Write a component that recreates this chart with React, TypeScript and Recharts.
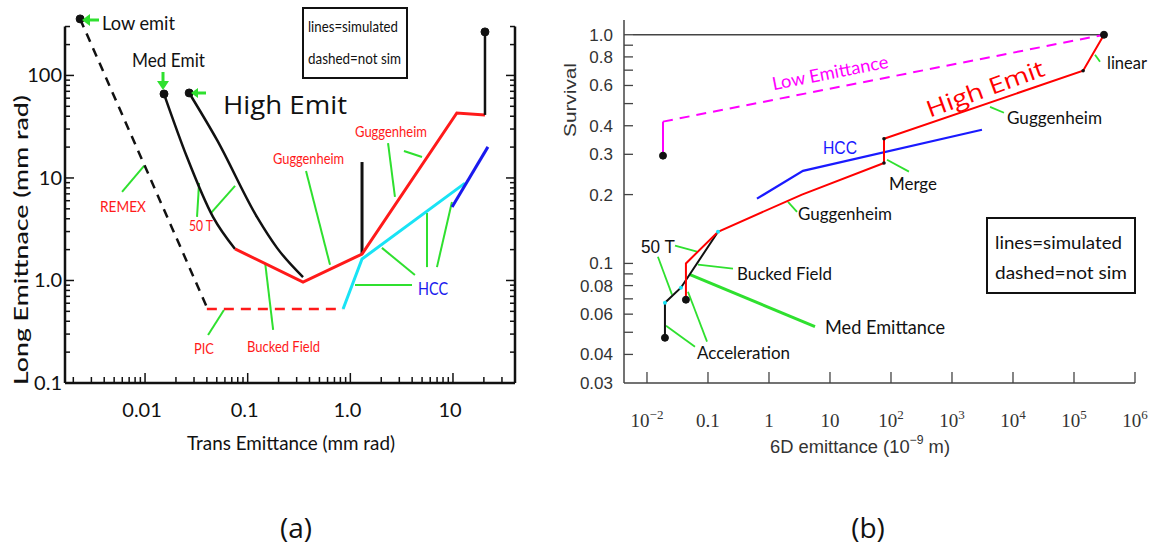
import { LineChart, Line, XAxis, YAxis, ReferenceLine, ReferenceDot } from 'recharts';

// ---------- (a) long emittance vs trans emittance (mm rad) ----------
const lowEmitA = [{ x: 0.00233, y: 356 }, { x: 0.04, y: 0.55 }];
const picA = [{ x: 0.04, y: 0.527 }, { x: 0.85, y: 0.527 }];
const medEmitA = [
    { x: 0.0153, y: 66 }, { x: 0.0256, y: 16 }, { x: 0.0459, y: 4.17 }, { x: 0.0753, y: 2.03 }
];
const highEmitA = [
    { x: 0.0269, y: 67.5 }, { x: 0.0502, y: 23.5 }, { x: 0.123, y: 4.17 }, { x: 0.193, y: 2.08 }, { x: 0.346, y: 1.08 }
];
const coolingA = [
    { x: 0.0753, y: 2.03 }, { x: 0.346, y: 0.966 }, { x: 1.3, y: 1.81 }, { x: 10.9, y: 43 }, { x: 20.5, y: 41.2 }
];
const spikeA = [{ x: 1.3, y: 1.81 }, { x: 1.3, y: 14.3 }];
const finalA = [{ x: 20.5, y: 41.2 }, { x: 20.5, y: 266 }];
const hccCyanA = [{ x: 0.85, y: 0.527 }, { x: 1.3, y: 1.62 }, { x: 13.1, y: 8.9 }];
const hccBlueA = [{ x: 9.8, y: 5.2 }, { x: 21.9, y: 20.1 }];
const startsA = [
    { x: 0.00233, y: 356 }, { x: 0.0153, y: 66 }, { x: 0.0269, y: 67.5 }, { x: 20.5, y: 266 }
];

// green pointers [from, to]
const pointersA = [
    [[0.00597, 7.3], [0.00978, 13.1]],   // REMEX
    [[0.0336, 8.94], [0.0321, 4.17]],    // 50 T
    [[0.044, 4.56], [0.0753, 8.36]],
    [[0.37, 11.7], [0.634, 1.42]],       // Guggenheim
    [[2.33, 21.9], [2.72, 6.53]],        // Guggenheim
    [[3.33, 18.3], [4.99, 16.0]],
    [[5.58, 4.56], [5.58, 1.35]],        // HCC
    [[9.77, 5.83], [6.98, 1.35]],
    [[2.03, 2.08], [4.26, 1.13]],
    [[1.11, 0.904], [3.99, 0.904]],
    [[0.0411, 0.294], [0.0587, 0.515]],  // PIC
    [[0.177, 0.329], [0.148, 1.48]],     // Bucked Field
];

const transMajor = [0.01, 0.1, 1, 10];
const transLabels = ['0.01', '0.1', '1.0', '10'];
const longMajor = [0.1, 1, 10, 100];
const longLabels = ['0.1', '1.0', '10', '100'];
const multipliers = [1, 2, 3, 4, 5, 6, 7, 8, 9];
const transTicks = [0.001, 0.01, 0.1, 1, 10]
    .flatMap(d => multipliers.map(m => +(d * m).toPrecision(3)))
    .filter(v => v > 0.0017 && v < 35);
const longTicks = [0.1, 1, 10, 100]
    .flatMap(d => multipliers.map(m => +(d * m).toPrecision(3)))
    .filter(v => v < 310);

// ---------- (b) survival vs 6D emittance ----------
const unityB = [{ x: 0.0059, y: 1 }, { x: 3.1e5, y: 1 }];
const lowEmitSolidB = [{ x: 0.0183, y: 0.296 }, { x: 0.0183, y: 0.417 }];
const lowEmitDashB = [{ x: 0.0183, y: 0.417 }, { x: 3.1e5, y: 1 }];
const highEmitB = [
    { x: 0.0435, y: 0.0694 }, { x: 0.0435, y: 0.1 }, { x: 0.146, y: 0.1376 }, { x: 3.47, y: 0.2 },
    { x: 76.8, y: 0.275 }, { x: 76.8, y: 0.351 }, { x: 1.41e5, y: 0.696 }, { x: 3.1e5, y: 1 }
];
const medEmitB = [
    { x: 0.0197, y: 0.0473 }, { x: 0.0197, y: 0.0673 }, { x: 0.036, y: 0.0783 }, { x: 0.146, y: 0.1376 }
];
const hccB = [{ x: 0.635, y: 0.192 }, { x: 3.61, y: 0.254 }, { x: 3100, y: 0.384 }];
const bigDotsB = [
    { x: 0.0183, y: 0.296 }, { x: 0.0435, y: 0.0694 }, { x: 0.0197, y: 0.0473 }, { x: 3.1e5, y: 1 }
];
const smallDotsB = [{ x: 76.8, y: 0.275 }, { x: 76.8, y: 0.351 }, { x: 1.41e5, y: 0.696 }];
const cyanDotsB = [{ x: 0.0197, y: 0.0673 }, { x: 0.036, y: 0.0783 }, { x: 0.146, y: 0.1376 }];

const pointersB = [
    [[2.21e5, 0.818], [2.67e5, 0.762]],  // linear
    [[4200, 0.484], [7110, 0.456]],      // Guggenheim
    [[86, 0.284], [197, 0.252]],         // Merge
    [[2.05, 0.186], [2.88, 0.168]],      // Guggenheim
    [[0.0288, 0.1195], [0.0661, 0.1125]], // 50 T
    [[0.0151, 0.107], [0.0257, 0.073]],
    [[0.0686, 0.0987], [0.257, 0.0948]], // Bucked Field
    [[0.0612, 0.0432], [0.0205, 0.0534]], // Acceleration
    [[0.0964, 0.0455], [0.047, 0.0752]],
];
const medPointerB = [[0.0507, 0.0893], [5.68, 0.0529]];

const survTicks = [1.0, 0.9, 0.8, 0.7, 0.6, 0.5, 0.4, 0.3, 0.2, 0.1, 0.09, 0.08, 0.07, 0.06, 0.05, 0.04, 0.03];
const survLabels = ['1.0', '', '0.8', '', '0.6', '', '0.4', '0.3', '0.2', '0.1', '', '0.08', '', '0.06', '', '0.04', '0.03'];
const emitTicks = [0.01, 0.1, 1, 10, 100, 1000, 1e4, 1e5, 1e6];
const emitBase = ['10', '0.1', '1', '10', '10', '10', '10', '10', '10'];
const emitExp = ['−2', '', '', '', '2', '3', '4', '5', '6'];

const GREEN = '#2fe02f';
const RED = '#ff1a1a';

// plot frame positions (pixels inside each chart)
const A_LEFT = 65, A_RIGHT = 515, A_BOTTOM = 383;
const B_LEFT = 64, B_BOTTOM = 383;

const near = (a: number, b: number) => Math.abs(a - b) < b * 1e-6;

const renderTickYA = (props: any) => {
    const { y, payload } = props;
    const i = longMajor.findIndex(v => near(payload.value, v));
    const len = i >= 0 ? 9 : 5;
    return (
        <g>
            <line x1={A_LEFT} x2={A_LEFT + len} y1={y} y2={y} stroke="#111" strokeWidth={1.5} />
            <line x1={A_RIGHT} x2={A_RIGHT - len} y1={y} y2={y} stroke="#111" strokeWidth={1.5} />
            {i >= 0 && (
                <text x={A_LEFT - 3} y={y} dy="0.35em" textAnchor="end" fontFamily="Lato" fontSize={20} fill="#111">
                    {longLabels[i]}
                </text>
            )}
        </g>
    );
};

const renderTickXA = (props: any) => {
    const { x, payload } = props;
    const i = transMajor.findIndex(v => near(payload.value, v));
    const len = i >= 0 ? 10 : 6;
    return (
        <g>
            <line x1={x} x2={x} y1={A_BOTTOM} y2={A_BOTTOM - len} stroke="#111" strokeWidth={1.5} />
            {i >= 0 && (
                <text x={x - 3} y={A_BOTTOM + 27} dy="0.35em" textAnchor="middle" fontFamily="Lato" fontSize={20} fill="#111">
                    {transLabels[i]}
                </text>
            )}
        </g>
    );
};

const renderTickYB = (props: any) => {
    const { y, payload } = props;
    const i = survTicks.findIndex(v => near(payload.value, v));
    return (
        <g>
            {i < survTicks.length - 1 && (
                <line x1={B_LEFT} x2={B_LEFT + 9} y1={y} y2={y} stroke="#444" strokeWidth={1.3} />
            )}
            {survLabels[i] && (
                <text x={B_LEFT - 11} y={y} dy="0.35em" textAnchor="end" fontFamily="Liberation Sans" fontSize={17} fill="#333">
                    {survLabels[i]}
                </text>
            )}
        </g>
    );
};

const renderTickXB = (props: any) => {
    const { x, payload } = props;
    const i = emitTicks.findIndex(v => near(payload.value, v));
    return (
        <g>
            <line x1={x} x2={x} y1={B_BOTTOM} y2={B_BOTTOM - 11} stroke="#444" strokeWidth={1.3} />
            <text x={x} y={B_BOTTOM + 44} textAnchor="middle" fontFamily="Liberation Serif" fontSize={19} fill="#333">
                {emitBase[i]}
                {emitExp[i] && <tspan dy={-8} fontSize={13}>{emitExp[i]}</tspan>}
            </text>
        </g>
    );
};

function ChartA() {
    const xDom: [number, number] = [0.00166, 40.2];
    const yDom: [number, number] = [0.1, 380];
    return (
        <LineChart width={560} height={470} margin={{ top: 16, right: 45, bottom: 57, left: 15 }}>
            <XAxis type="number" dataKey="x" scale="log" domain={xDom} allowDataOverflow ticks={transTicks}
                interval={0} tick={renderTickXA} tickLine={false} axisLine={false} height={30} />
            <YAxis type="number" dataKey="y" scale="log" domain={yDom} allowDataOverflow ticks={longTicks}
                interval={0} tick={renderTickYA} tickLine={false} axisLine={false} width={50} />
            <ReferenceLine segment={[{ x: xDom[0], y: 0.1 }, { x: xDom[0], y: 300 }]} stroke="#111" strokeWidth={2.5} ifOverflow="visible" />
            <ReferenceLine segment={[{ x: xDom[1], y: 0.1 }, { x: xDom[1], y: 300 }]} stroke="#111" strokeWidth={2.5} ifOverflow="visible" />
            <ReferenceLine segment={[{ x: xDom[0], y: 0.1 }, { x: xDom[1], y: 0.1 }]} stroke="#111" strokeWidth={2.5} ifOverflow="visible" />
            {pointersA.map((p, i) => (
                <ReferenceLine key={`pa-${i}`} segment={[{ x: p[0][0], y: p[0][1] }, { x: p[1][0], y: p[1][1] }]}
                    stroke={GREEN} strokeWidth={2} ifOverflow="visible" />
            ))}
            <Line data={lowEmitA} dataKey="y" stroke="#111" strokeWidth={2.5} strokeDasharray="9 7" dot={false} isAnimationActive={false} />
            <Line data={picA} dataKey="y" stroke={RED} strokeWidth={2.5} strokeDasharray="10 7" dot={false} isAnimationActive={false} />
            <Line data={medEmitA} type="monotone" dataKey="y" stroke="#111" strokeWidth={2.5} dot={false} isAnimationActive={false} />
            <Line data={highEmitA} type="monotone" dataKey="y" stroke="#111" strokeWidth={2.5} dot={false} isAnimationActive={false} />
            <Line data={spikeA} dataKey="y" stroke="#111" strokeWidth={3} dot={false} isAnimationActive={false} />
            <Line data={hccCyanA} dataKey="y" stroke="#19e3f5" strokeWidth={3} dot={false} isAnimationActive={false} />
            <Line data={hccBlueA} dataKey="y" stroke="#1a1aee" strokeWidth={3} dot={false} isAnimationActive={false} />
            <Line data={coolingA} dataKey="y" stroke={RED} strokeWidth={3} dot={false} isAnimationActive={false} />
            <Line data={finalA} dataKey="y" stroke="#111" strokeWidth={2.5} dot={false} isAnimationActive={false} />
            {startsA.map((d, i) => (
                <ReferenceDot key={`sa-${i}`} x={d.x} y={d.y} r={4} fill="#111" stroke="#111" ifOverflow="visible" />
            ))}
        </LineChart>
    );
}

function ChartB() {
    const xDom: [number, number] = [0.0042, 1e6];
    const yDom: [number, number] = [0.03, 1.16];
    return (
        <LineChart width={591} height={470} margin={{ top: 20, right: 16, bottom: 57, left: 14 }}>
            <XAxis type="number" dataKey="x" scale="log" domain={xDom} allowDataOverflow ticks={emitTicks}
                interval={0} tick={renderTickXB} tickLine={false} axisLine={{ stroke: '#444', strokeWidth: 1.5 }} height={30} />
            <YAxis type="number" dataKey="y" scale="log" domain={yDom} allowDataOverflow ticks={survTicks}
                interval={0} tick={renderTickYB} tickLine={false} axisLine={{ stroke: '#444', strokeWidth: 1.5 }} width={50} />
            {pointersB.map((p, i) => (
                <ReferenceLine key={`pb-${i}`} segment={[{ x: p[0][0], y: p[0][1] }, { x: p[1][0], y: p[1][1] }]}
                    stroke={GREEN} strokeWidth={1.8} ifOverflow="visible" />
            ))}
            <ReferenceLine segment={[{ x: medPointerB[0][0], y: medPointerB[0][1] }, { x: medPointerB[1][0], y: medPointerB[1][1] }]}
                stroke={GREEN} strokeWidth={3} ifOverflow="visible" />
            <Line data={unityB} dataKey="y" stroke="#444" strokeWidth={1.5} dot={false} isAnimationActive={false} />
            <Line data={lowEmitSolidB} dataKey="y" stroke="#ff00ff" strokeWidth={2} dot={false} isAnimationActive={false} />
            <Line data={lowEmitDashB} dataKey="y" stroke="#ff00ff" strokeWidth={2} strokeDasharray="10 7" dot={false} isAnimationActive={false} />
            <Line data={hccB} dataKey="y" stroke="#1a1aff" strokeWidth={2.2} dot={false} isAnimationActive={false} />
            <Line data={medEmitB} dataKey="y" stroke="#111" strokeWidth={2} dot={false} isAnimationActive={false} />
            <Line data={highEmitB} dataKey="y" stroke="#ff0000" strokeWidth={2} dot={false} isAnimationActive={false} />
            {bigDotsB.map((d, i) => (
                <ReferenceDot key={`bd-${i}`} x={d.x} y={d.y} r={3.5} fill="#111" stroke="#111" ifOverflow="visible" />
            ))}
            {smallDotsB.map((d, i) => (
                <ReferenceDot key={`sd-${i}`} x={d.x} y={d.y} r={1.8} fill="#111" stroke="none" />
            ))}
            {cyanDotsB.map((d, i) => (
                <ReferenceDot key={`cd-${i}`} x={d.x} y={d.y} r={2} fill="#19e3f5" stroke="none" />
            ))}
        </LineChart>
    );
}

interface TxtProps {
    x: number; y: number; w?: number; size: number; fill?: string;
    anchor?: 'start' | 'middle' | 'end'; rotate?: number; family?: string; weight?: number;
    children: any;
}

function Txt({ x, y, w, size, fill = '#111', anchor = 'start', rotate = 0, family = 'Lato', weight = 400, children }: TxtProps) {
    return (
        <text x={x} y={y} fontSize={size} fill={fill} fontFamily={family} fontWeight={weight} textAnchor={anchor}
            dominantBaseline="central" textLength={w} lengthAdjust={w ? 'spacingAndGlyphs' : undefined}
            transform={rotate ? `rotate(${rotate} ${x} ${y})` : undefined}>
            {children}
        </text>
    );
}

export default function App() {
    return (
        <div style={{ position: 'relative', width: 1151, height: 550, background: '#fff', overflow: 'hidden' }}>
            <style>{'body{margin:0}'}</style>
            <div style={{ position: 'absolute', left: 0, top: 0 }}><ChartA /></div>
            <div style={{ position: 'absolute', left: 560, top: 0 }}><ChartB /></div>
            <svg width={1151} height={550} style={{ position: 'absolute', left: 0, top: 0, pointerEvents: 'none' }}>
                {/* (a) arrows */}
                <line x1={88} y1={20} x2={99} y2={20} stroke={GREEN} strokeWidth={3} />
                <polygon points="82,20 90,14 90,26" fill={GREEN} />
                <line x1={163} y1={72} x2={163} y2={83} stroke={GREEN} strokeWidth={3} />
                <polygon points="163,90 157,81 169,81" fill={GREEN} />
                <line x1={197} y1={93} x2={206} y2={93} stroke={GREEN} strokeWidth={3} />
                <polygon points="191,93 198,88 198,98" fill={GREEN} />

                {/* (a) labels */}
                <Txt x={102} y={22} w={73} size={20}>Low emit</Txt>
                <Txt x={132} y={59} w={73} size={20}>Med Emit</Txt>
                <Txt x={223} y={104} w={124} size={26} family="Open Sans">High Emit</Txt>
                <Txt x={100} y={205} w={46} size={16} fill={RED}>REMEX</Txt>
                <Txt x={189} y={224} w={24} size={16} fill={RED}>50 T</Txt>
                <Txt x={273} y={157} w={71} size={16} fill={RED}>Guggenheim</Txt>
                <Txt x={355} y={130} w={72} size={16} fill={RED}>Guggenheim</Txt>
                <Txt x={418} y={288} w={30} size={18} fill="#1a1aee">HCC</Txt>
                <Txt x={194} y={347} w={20} size={16} fill={RED}>PIC</Txt>
                <Txt x={247} y={345} w={73} size={16} fill={RED}>Bucked Field</Txt>
                <rect x={303} y={8} width={104} height={70} fill="#fff" stroke="#111" strokeWidth={2} />
                <Txt x={308} y={25} w={90} size={16}>lines=simulated</Txt>
                <Txt x={308} y={57} w={93} size={16}>dashed=not sim</Txt>
                <Txt x={20} y={240} w={290} size={20} anchor="middle" rotate={-90} weight={500}>Long Emittnace (mm rad)</Txt>
                <Txt x={291} y={442} w={208} size={19} anchor="middle">Trans Emittance  (mm rad)</Txt>
                <Txt x={296} y={527} size={28} anchor="middle" family="Open Sans">(a)</Txt>

                {/* (b) labels */}
                <Txt x={570} y={100} w={74} size={17} anchor="middle" rotate={-90} family="Liberation Sans" fill="#333">Survival</Txt>
                <Txt x={860} y={447} w={180} size={18} anchor="middle" family="Liberation Sans" fill="#333">
                    6D emittance (10<tspan dy={-7} fontSize={12}>−9</tspan><tspan dy={7}> m)</tspan>
                </Txt>
                <Txt x={830} y={72} w={118} size={18} anchor="middle" rotate={-11} fill="#ff00ff">Low Emittance</Txt>
                <Txt x={985} y={88} w={124} size={23} anchor="middle" rotate={-20} fill="#ff0000" family="Open Sans">High Emit</Txt>
                <Txt x={1107} y={62} w={40} size={17}>linear</Txt>
                <Txt x={1007} y={117} w={95} size={18}>Guggenheim</Txt>
                <Txt x={823} y={147} w={34} size={19} fill="#1a1aff" family="Liberation Sans">HCC</Txt>
                <Txt x={889} y={183} w={48} size={18}>Merge</Txt>
                <Txt x={798} y={213} w={94} size={18}>Guggenheim</Txt>
                <Txt x={641} y={247} w={34} size={18} family="Liberation Sans">50 T</Txt>
                <Txt x={737} y={273} w={95} size={18}>Bucked Field</Txt>
                <Txt x={825} y={326} w={120} size={19}>Med Emittance</Txt>
                <Txt x={697} y={352} w={93} size={18}>Acceleration</Txt>
                <rect x={987} y={218} width={148} height={75} fill="#fff" stroke="#111" strokeWidth={2} />
                <Txt x={995} y={242} w={127} size={18}>lines=simulated</Txt>
                <Txt x={995} y={272} w={132} size={18}>dashed=not sim</Txt>
                <Txt x={868} y={527} size={28} anchor="middle" family="Open Sans">(b)</Txt>
            </svg>
        </div>
    );
}
